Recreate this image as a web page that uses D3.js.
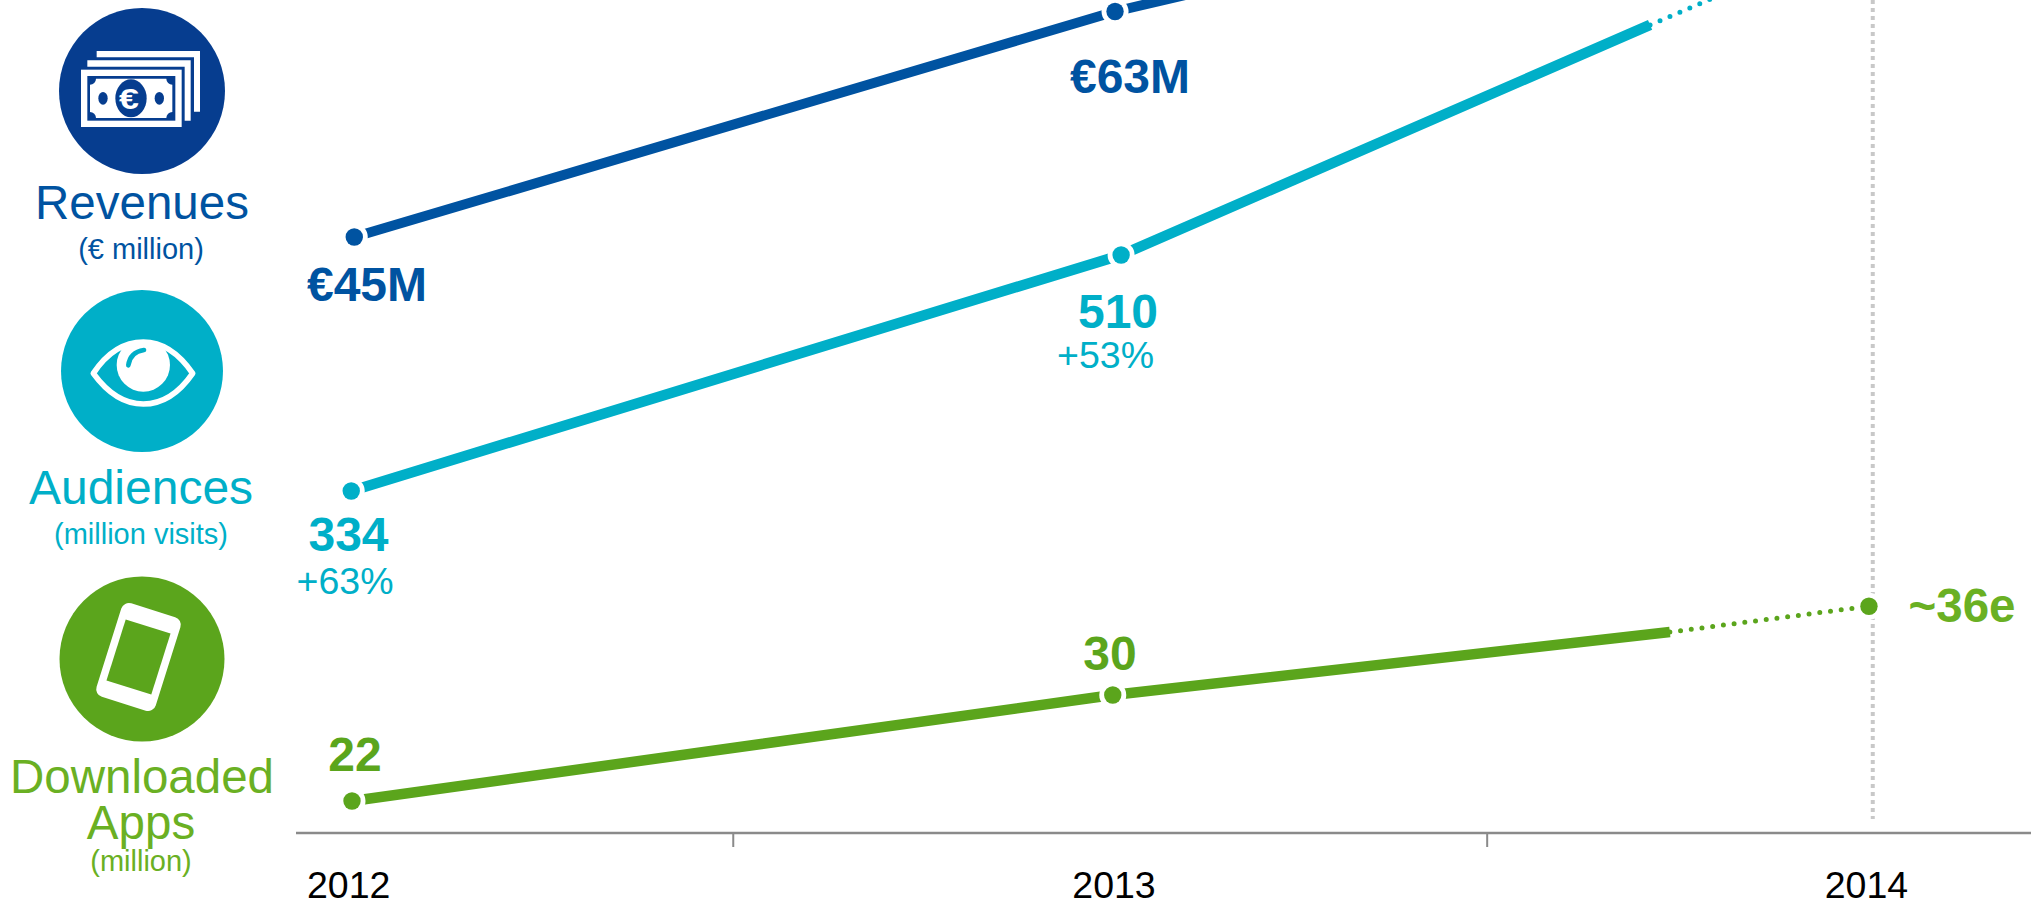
<!DOCTYPE html>
<html><head><meta charset="utf-8">
<script src="https://cdn.jsdelivr.net/npm/d3@7"></script>
<style>html,body{margin:0;padding:0;background:#fff;overflow:hidden}svg{display:block}text{font-family:"Liberation Sans",Arial,sans-serif}</style>
</head><body><svg id="c" width="2031" height="905"></svg>
<script>
// Data (x values are years as drawn, slightly off the grid in the original)
const yearTicks = [2011.995, 2013.002, 2013.992];
const yearLabels = ["2012", "2013", "2014"];
const minorTicks = [2012.501, 2013.493];
const guideYear = 2014.001;

const revenueYears = [2012.003, 2013.004, 2013.72, 2014];
const revenueValues = [45, 63, 73.2, 77.5];
const audienceYears = [2011.999, 2013.012, 2013.708, 2014];
const audienceValues = [334, 510, 681.6, 752];
const appsYears = [2012, 2013.001, 2013.734, 2013.996];
const appsValues = [22, 30, 34.75, 36.7];

const W = 2031, H = 905;
const COL = {navy:"#0053a1", navyDark:"#063d8f", teal:"#00afc8", green:"#5ba51c", greenLight:"#6ab023"};

const svg = d3.select("#c");
const x = d3.scaleLinear().domain([2012, 2014]).range([352, 1872]);
const yRev = d3.scaleLinear().domain([45, 63]).range([237, 11.5]);
const yAud = d3.scaleLinear().domain([334, 510]).range([491, 255]);
const yApp = d3.scaleLinear().domain([22, 30]).range([801, 695]);

// x axis
const axisY = 833;
const axisG = svg.append("g").attr("transform", `translate(0,${axisY})`);
axisG.call(d3.axisBottom(x).tickValues(minorTicks).tickSize(14).tickFormat(""));
axisG.select(".domain").remove();
axisG.selectAll(".tick line").attr("stroke", "#8a8a8a").attr("stroke-width", 2);
axisG.append("line").attr("x1", 296).attr("x2", W).attr("stroke", "#8a8a8a").attr("stroke-width", 2.4);
const labG = svg.append("g").attr("transform", `translate(0,${axisY})`);
labG.call(d3.axisBottom(x).tickValues(yearTicks).tickSize(0).tickFormat((d, i) => yearLabels[i]));
labG.select(".domain").remove();
labG.selectAll("text").attr("fill", "#000").attr("font-size", 37.5).attr("font-family", '"Liberation Sans",Arial,sans-serif').attr("y", 65).attr("dy", 0);

// 2014 guide
svg.append("line").attr("x1", x(guideYear)).attr("x2", x(guideYear)).attr("y1", 0).attr("y2", 819)
  .attr("stroke", "#c8c8c8").attr("stroke-width", 4).attr("stroke-dasharray", "4 4");

const series = [
  {xs: revenueYears, ys: revenueValues, y: yRev, c: COL.navy, w: 10},
  {xs: audienceYears, ys: audienceValues, y: yAud, c: COL.teal, w: 10.5},
  {xs: appsYears, ys: appsValues, y: yApp, c: COL.green, w: 10.5},
];
series.forEach(s => {
  const pts = s.xs.map((d, i) => [x(d), s.y(s.ys[i])]);
  const line = d3.line();
  svg.append("path").attr("d", line(pts.slice(0, 3))).attr("fill", "none").attr("stroke", s.c).attr("stroke-width", s.w);
  svg.append("path").attr("d", line(pts.slice(2))).attr("fill", "none").attr("stroke", s.c)
    .attr("stroke-width", 5).attr("stroke-linecap", "round").attr("stroke-dasharray", "0 10.8");
  [0, 1, 3].forEach(i => {
    svg.append("circle").attr("cx", pts[i][0]).attr("cy", pts[i][1]).attr("r", 13.5).attr("fill", "#fff");
    svg.append("circle").attr("cx", pts[i][0]).attr("cy", pts[i][1]).attr("r", 8.7).attr("fill", s.c);
  });
});

function t(str, px, py, size, fill, bold) {
  svg.append("text").attr("x", px).attr("y", py).attr("text-anchor", "middle").attr("font-size", size)
    .attr("fill", fill).attr("font-weight", bold ? 700 : 400).text(str);
}
// value labels
t("€45M", 367, 301, 48, COL.navy, true);
t("€63M", 1130, 93, 48, COL.navy, true);
t("334", 348.5, 551, 48, COL.teal, true);
t("+63%", 345, 594, 37.5, COL.teal, false);
t("510", 1118, 328, 48, COL.teal, true);
t("+53%", 1105.5, 368, 37.5, COL.teal, false);
t("22", 355, 771, 48, COL.green, true);
t("30", 1110, 670, 48, COL.green, true);
t("~36e", 1962, 622, 47.5, COL.greenLight, true);

// legend
t("Revenues", 142, 219, 47.5, COL.navy, false);
t("(€ million)", 141, 259, 29, COL.navy, false);
t("Audiences", 141, 504, 48, COL.teal, false);
t("(million visits)", 141, 544, 29, COL.teal, false);
t("Downloaded", 142, 793, 47.5, COL.greenLight, false);
t("Apps", 141, 839, 47.5, COL.greenLight, false);
t("(million)", 141, 871, 29, COL.greenLight, false);

// Revenue icon (local frame = 3x zoom pixels)
svg.append("circle").attr("cx", 142).attr("cy", 91).attr("r", 83).attr("fill", COL.navyDark);
const m = svg.append("g").attr("transform", "scale(0.3333333)");
m.append("path").attr("fill", "#fff").attr("d", "M290 153H600V335H582V172H290Z");
m.append("path").attr("fill", "#fff").attr("d", "M262 181H572V362H554V200H262Z");
m.append("rect").attr("x", 243).attr("y", 209).attr("width", 302).attr("height", 172).attr("fill", "#fff");
m.append("rect").attr("x", 262).attr("y", 228).attr("width", 264).attr("height", 134).attr("fill", COL.navyDark);
m.append("path").attr("fill", "#fff").attr("d", "M288 236H499A18 18 0 0 0 517 254V336A18 18 0 0 0 499 354H288A18 18 0 0 0 270 336V254A18 18 0 0 0 288 236Z");
m.append("ellipse").attr("cx", 393).attr("cy", 295).attr("rx", 47).attr("ry", 57).attr("fill", COL.navyDark);
m.append("ellipse").attr("cx", 309).attr("cy", 295).attr("rx", 14).attr("ry", 19).attr("fill", COL.navyDark);
m.append("ellipse").attr("cx", 478).attr("cy", 295).attr("rx", 14).attr("ry", 19).attr("fill", COL.navyDark);
m.append("text").attr("transform", "translate(387,328) scale(1.22,1)").attr("text-anchor", "middle").attr("font-size", 88).attr("font-weight", 700).attr("fill", "#fff").text("€");

// Eye icon
svg.append("circle").attr("cx", 142).attr("cy", 371).attr("r", 81).attr("fill", COL.teal);
const e = svg.append("g").attr("transform", "translate(0,280) scale(0.3333333)");
const eyePath = "M280 280C320 220 370 186 430 186C490 186 540 225 578 280C540 335 490 372 430 372C370 372 320 335 280 280Z";
e.append("clipPath").attr("id", "eyeClip").append("path").attr("d", eyePath);
e.append("circle").attr("cx", 430).attr("cy", 255).attr("r", 80).attr("fill", "#fff").attr("clip-path", "url(#eyeClip)");
e.append("path").attr("d", eyePath).attr("fill", "none").attr("stroke", "#fff").attr("stroke-width", 17).attr("stroke-linejoin", "round");
e.append("path").attr("d", "M385 256Q390 216 432 210").attr("fill", "none").attr("stroke", COL.teal).attr("stroke-width", 14).attr("stroke-linecap", "round");

// Phone icon
svg.append("circle").attr("cx", 142).attr("cy", 659).attr("r", 82.5).attr("fill", COL.green);
const p = svg.append("g").attr("transform", "translate(138.5,657) rotate(17.5)");
p.append("rect").attr("x", -31).attr("y", -49).attr("width", 62).attr("height", 98).attr("rx", 8).attr("fill", "#fff");
p.append("rect").attr("x", -23.5).attr("y", -32).attr("width", 47).attr("height", 64).attr("fill", COL.green);
</script></body></html>
